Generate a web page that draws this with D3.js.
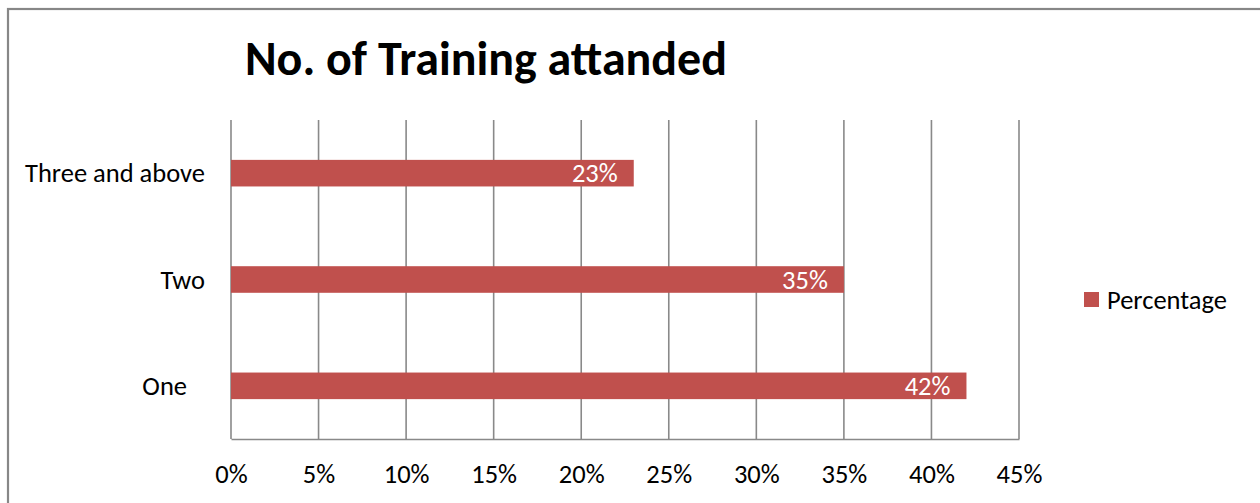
<!DOCTYPE html>
<html>
<head>
<meta charset="utf-8">
<script src="https://cdn.jsdelivr.net/npm/d3@7"></script>
<style>
  html, body { margin: 0; padding: 0; background: #fff; }
  svg text { font-family: Carlito, Lato, "Noto Sans", sans-serif; }
</style>
</head>
<body>
<svg id="chart" width="1260" height="503"></svg>
<script>
// Training attendance shares
const categories = ["Three and above", "Two", "One   "];
const percentages = [23, 35, 42];
const xTicks = [0, 5, 10, 15, 20, 25, 30, 35, 40, 45];
const seriesName = "Percentage";
const titleText = "No. of Training attanded";

const barColor = "#C0504D";
const gridColor = "#898989";
const labelSize = "26.5px";

const svg = d3.select("#chart");
const W = 1260, H = 503;

// outer frame of the chart area
svg.append("rect")
  .attr("x", 8).attr("y", 9)
  .attr("width", W + 10).attr("height", H + 10)
  .attr("fill", "#fff")
  .attr("stroke", "#878787").attr("stroke-width", 2.2);

const plot = { left: 231, right: 1019, top: 120, bottom: 439 };

const x = d3.scaleLinear().domain([0, 45]).range([plot.left, plot.right]);
const y = d3.scaleBand().domain(categories).range([plot.top, plot.bottom]).paddingInner(0).paddingOuter(0);
const barH = y.bandwidth() * 0.25;

// vertical gridlines
svg.append("g").selectAll("line")
  .data(xTicks)
  .join("line")
  .attr("x1", d => x(d)).attr("x2", d => x(d))
  .attr("y1", plot.top).attr("y2", plot.bottom)
  .attr("stroke", gridColor).attr("stroke-width", 1.6);

// bottom axis line and tick labels
const xAxis = d3.axisBottom(x).tickValues(xTicks).tickSize(0).tickPadding(0).tickFormat(d => d + "%");
const gx = svg.append("g").attr("transform", `translate(0,${plot.bottom})`).call(xAxis);
gx.select(".domain").attr("stroke", gridColor).attr("stroke-width", 1.6);
gx.selectAll(".tick text")
  .attr("y", 44).attr("dy", 0)
  .attr("fill", "#000")
  .style("font-size", labelSize);

// category labels
const yAxis = d3.axisLeft(y).tickSize(0).tickPadding(0);
const gy = svg.append("g").attr("transform", `translate(${plot.left},0)`).call(yAxis);
gy.select(".domain").remove();
gy.selectAll(".tick text")
  .attr("x", -26).attr("dy", "0.35em")
  .attr("xml:space", "preserve")
  .style("white-space", "pre")
  .attr("fill", "#000")
  .style("font-size", labelSize);

// bars
const rows = categories.map((c, i) => ({ c, v: percentages[i] }));
svg.append("g").selectAll("rect")
  .data(rows)
  .join("rect")
  .attr("x", x(0))
  .attr("y", d => y(d.c) + y.bandwidth() / 2 - barH / 2)
  .attr("width", d => x(d.v) - x(0))
  .attr("height", barH)
  .attr("fill", barColor);

// value labels inside bar ends
svg.append("g").selectAll("text")
  .data(rows)
  .join("text")
  .attr("x", d => x(d.v) - 16)
  .attr("y", d => y(d.c) + y.bandwidth() / 2)
  .attr("dy", "0.35em")
  .attr("text-anchor", "end")
  .attr("fill", "#fff")
  .style("font-size", labelSize)
  .text(d => d.v + "%");

// title
svg.append("text")
  .attr("x", 486).attr("y", 75)
  .attr("text-anchor", "middle")
  .style("font-size", "48px").style("font-weight", "bold")
  .attr("fill", "#000")
  .text(titleText);

// legend
const lg = svg.append("g").attr("transform", "translate(1084,292)");
lg.append("rect").attr("width", 15).attr("height", 15).attr("fill", barColor);
lg.append("text").attr("x", 23).attr("y", 7.5).attr("dy", "0.35em")
  .style("font-size", labelSize).attr("fill", "#000").text(seriesName);
</script>
</body>
</html>
